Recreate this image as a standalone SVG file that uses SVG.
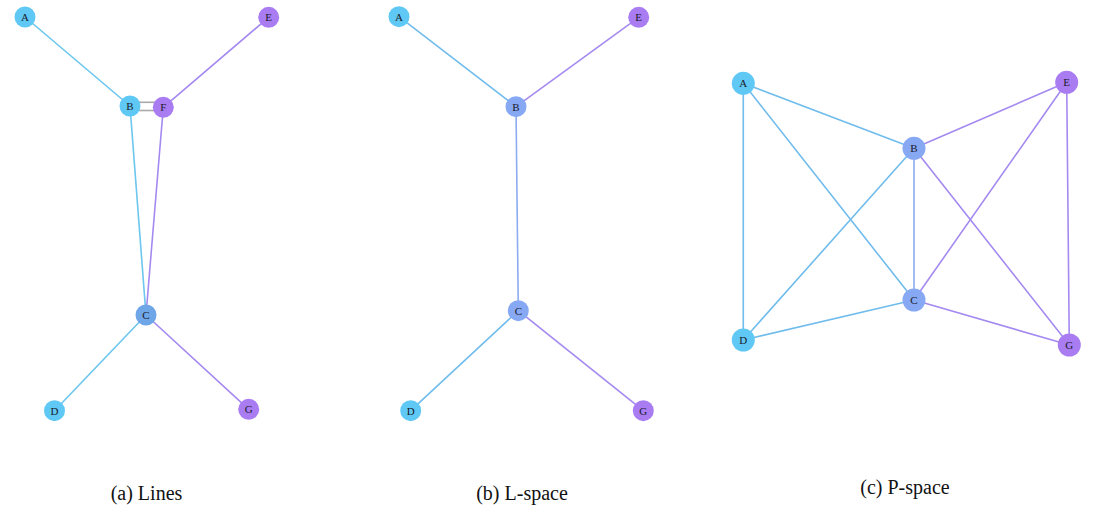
<svg xmlns="http://www.w3.org/2000/svg" width="1095" height="512" viewBox="0 0 1095 512">
<style>
.e{stroke-width:1.6;fill:none;stroke-linecap:round}
.cy{stroke:#6CC6EE}
.pu{stroke:#A48AF0}
.bl{stroke:#8CABF0}
.cb{stroke:#70BCEC}
.gr{stroke:#A9A9A9;stroke-width:1.6}
.nc{fill:#60C8F5}
.np{fill:#A97CF2}
.nb{fill:#6EA6E8}
.nl{fill:#87A9F4}
text.l{font-family:"Liberation Serif","Times New Roman",serif;font-size:11px;fill:#1a1a2a;text-anchor:middle}
text.c{font-family:"Liberation Serif","Times New Roman",serif;font-size:20px;fill:#111;text-anchor:middle}
</style>
<rect width="1095" height="512" fill="#fff"/>
<g id="connectors">
<line class="e cy" x1="25" y1="17" x2="130" y2="106"/>
<line class="e pu" x1="268.7" y1="17.3" x2="163.3" y2="107.3"/>
<line class="e cy" x1="130" y1="106" x2="146" y2="315"/>
<line class="e pu" x1="163.3" y1="107.3" x2="146" y2="315"/>
<line class="e cy" x1="146" y1="315" x2="54.5" y2="410.7"/>
<line class="e pu" x1="146" y1="315" x2="248.7" y2="409.3"/>
<line class="gr" x1="139" y1="102.3" x2="155" y2="102.3"/>
<line class="gr" x1="139" y1="110.5" x2="155" y2="110.5"/>
<line class="e cb" x1="399" y1="16.7" x2="516" y2="106.7"/>
<line class="e pu" x1="638.7" y1="17.3" x2="516" y2="106.7"/>
<line class="e bl" x1="516" y1="106.7" x2="518.3" y2="310.7"/>
<line class="e cb" x1="518.3" y1="310.7" x2="410.7" y2="410.7"/>
<line class="e pu" x1="518.3" y1="310.7" x2="643.3" y2="410.7"/>
<line class="e cb" x1="743.3" y1="83.3" x2="743.3" y2="340"/>
<line class="e cb" x1="743.3" y1="83.3" x2="914" y2="148.3"/>
<line class="e cb" x1="743.3" y1="83.3" x2="914" y2="300"/>
<line class="e cb" x1="743.3" y1="340" x2="914" y2="148.3"/>
<line class="e cb" x1="743.3" y1="340" x2="914" y2="300"/>
<line class="e bl" x1="914" y1="148.3" x2="914" y2="300"/>
<line class="e pu" x1="1066.7" y1="82.3" x2="914" y2="148.3"/>
<line class="e pu" x1="1066.7" y1="82.3" x2="914" y2="300"/>
<line class="e pu" x1="1066.7" y1="82.3" x2="1069.3" y2="345"/>
<line class="e pu" x1="914" y1="148.3" x2="1069.3" y2="345"/>
<line class="e pu" x1="914" y1="300" x2="1069.3" y2="345"/>
</g>
<g id="a-A"><circle class="nc" cx="25" cy="17" r="10.5"/><text class="l" x="25" y="20.8">A</text></g>
<g id="a-E"><circle class="np" cx="268.7" cy="17.3" r="10.5"/><text class="l" x="268.7" y="21.1">E</text></g>
<g id="a-B"><circle class="nc" cx="130" cy="106" r="10.5"/><text class="l" x="130" y="109.8">B</text></g>
<g id="a-F"><circle class="np" cx="163.3" cy="107.3" r="10.5"/><text class="l" x="163.3" y="111.1">F</text></g>
<g id="a-C"><circle class="nb" cx="146" cy="315" r="10.5"/><text class="l" x="146" y="318.8">C</text></g>
<g id="a-D"><circle class="nc" cx="54.5" cy="410.7" r="10.5"/><text class="l" x="54.5" y="414.5">D</text></g>
<g id="a-G"><circle class="np" cx="248.7" cy="409.3" r="10.5"/><text class="l" x="248.7" y="413.1">G</text></g>
<g id="b-A"><circle class="nc" cx="399" cy="16.7" r="10.5"/><text class="l" x="399" y="20.5">A</text></g>
<g id="b-E"><circle class="np" cx="638.7" cy="17.3" r="10.5"/><text class="l" x="638.7" y="21.1">E</text></g>
<g id="b-B"><circle class="nl" cx="516" cy="106.7" r="10.5"/><text class="l" x="516" y="110.5">B</text></g>
<g id="b-C"><circle class="nl" cx="518.3" cy="310.7" r="10.5"/><text class="l" x="518.3" y="314.5">C</text></g>
<g id="b-D"><circle class="nc" cx="410.7" cy="410.7" r="10.5"/><text class="l" x="410.7" y="414.5">D</text></g>
<g id="b-G"><circle class="np" cx="643.3" cy="410.7" r="10.5"/><text class="l" x="643.3" y="414.5">G</text></g>
<g id="c-A"><circle class="nc" cx="743.3" cy="83.3" r="11.5"/><text class="l" x="743.3" y="87.1">A</text></g>
<g id="c-E"><circle class="np" cx="1066.7" cy="82.3" r="11.5"/><text class="l" x="1066.7" y="86.1">E</text></g>
<g id="c-B"><circle class="nl" cx="914" cy="148.3" r="11.5"/><text class="l" x="914" y="152.1">B</text></g>
<g id="c-C"><circle class="nl" cx="914" cy="300" r="11.5"/><text class="l" x="914" y="303.8">C</text></g>
<g id="c-D"><circle class="nc" cx="743.3" cy="340" r="11.5"/><text class="l" x="743.3" y="343.8">D</text></g>
<g id="c-G"><circle class="np" cx="1069.3" cy="345" r="11.5"/><text class="l" x="1069.3" y="348.8">G</text></g>
<g id="captions">
<text class="c" x="146.5" y="500">(a) Lines</text>
<text class="c" x="522" y="499.5">(b) L-space</text>
<text class="c" x="905" y="493.5">(c) P-space</text>
</g>
</svg>
